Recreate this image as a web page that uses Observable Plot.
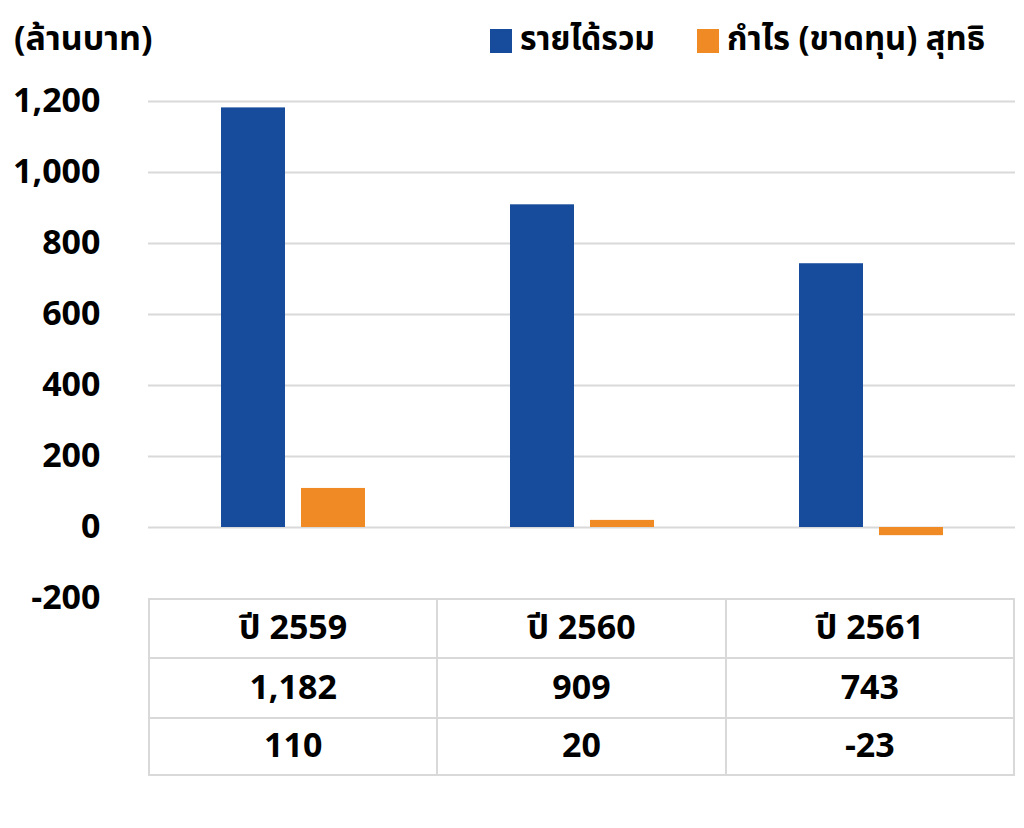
<!DOCTYPE html>
<html><head><meta charset="utf-8">
<script src="https://cdn.jsdelivr.net/npm/d3@7"></script>
<script src="https://cdn.jsdelivr.net/npm/@observablehq/plot@0.6"></script>
<style>
body{margin:0;background:#fff;font-family:"Noto Sans Thai","Noto Sans",sans-serif;font-weight:bold;color:#000}
#wrap{position:relative;width:1024px;height:828px;overflow:hidden}
#header{position:relative;height:70px}
#unit{position:absolute;left:14px;top:20px;font-size:34px;line-height:40px;white-space:nowrap}
.sw{position:absolute;top:29px;width:22px;height:24px}
.lt{position:absolute;top:20px;font-size:34px;line-height:40px;white-space:nowrap;transform-origin:left center;display:inline-block}
#tbl{position:absolute;left:148px;top:598px;width:867px;border-collapse:collapse;font-size:34px}
#tbl td{border:2px solid #d9d9d9;text-align:center;padding:0;width:33.3%}
</style></head><body>
<div id="wrap">
<div id="header"><div id="unit">(ล้านบาท)</div></div>
<div id="chart"></div>
<table id="tbl"></table>
</div>
<script>
const years = ["ปี 2559", "ปี 2560", "ปี 2561"];
const seriesNames = ["รายได้รวม", "กำไร (ขาดทุน) สุทธิ"];
const revenue = [1182, 909, 743];
const profit = [110, 20, -23];
const yTicks = [-200, 0, 200, 400, 600, 800, 1000, 1200];
const colors = ["#164c9b", "#ef8a24"];
const fmt = d => d.toLocaleString("en-US");

const data = years.flatMap((y, i) => [
  {year: y, series: seriesNames[0], value: revenue[i]},
  {year: y, series: seriesNames[1], value: profit[i]}
]);

const plot = Plot.plot({
  width: 1024, height: 548,
  marginTop: 31, marginBottom: 20, marginLeft: 148, marginRight: 9,
  fx: {domain: years, padding: 0, axis: null, label: null},
  x: {domain: seriesNames, paddingInner: 0.2, paddingOuter: 0.9, axis: null, label: null},
  y: {domain: [-200, 1200], ticks: yTicks, tickFormat: fmt, tickSize: 0, tickPadding: 48, label: null},
  color: {domain: seriesNames, range: colors},
  style: {fontFamily: '"Noto Sans Thai","Noto Sans",sans-serif', fontSize: "34px", fontWeight: "bold", color: "#000", background: "transparent", overflow: "visible"},
  marks: [
    Plot.ruleY(yTicks.filter(d => d > -200), {stroke: "#d9d9d9", strokeWidth: 2}),
    Plot.barY(data, {fx: "year", x: "series", y: "value", fill: "series"})
  ]
});
document.getElementById("chart").appendChild(plot);

// legend (swatch left edge, text left edge, text target width)
const header = document.getElementById("header");
const legendLayout = [[490, 520, 135], [697, 727, 258]];
seriesNames.forEach((s, i) => {
  const [sx, tx, tw] = legendLayout[i];
  const sw = document.createElement("span");
  sw.className = "sw"; sw.style.left = sx + "px"; sw.style.background = colors[i];
  header.appendChild(sw);
  const t = document.createElement("span");
  t.className = "lt"; t.style.left = tx + "px"; t.textContent = s;
  header.appendChild(t);
  const w = t.getBoundingClientRect().width;
  if (w > tw) t.style.transform = `scaleX(${tw / w})`;
});

// data table
const tbl = document.getElementById("tbl");
const rows = [years, revenue.map(fmt), profit.map(fmt)];
const heights = [59, 60, 57];
rows.forEach((r, i) => {
  const tr = document.createElement("tr");
  tr.style.height = heights[i] + "px";
  r.forEach(v => { const td = document.createElement("td"); td.textContent = v; tr.appendChild(td); });
  tbl.appendChild(tr);
});
</script>
</body></html>
